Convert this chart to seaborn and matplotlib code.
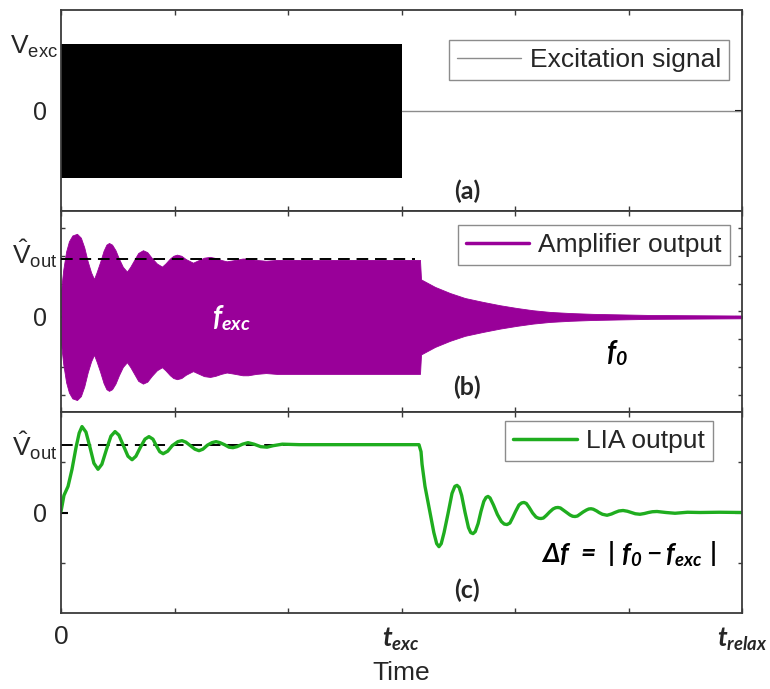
import matplotlib.pyplot as plt
import numpy as np
import seaborn as sns
from matplotlib.lines import Line2D

# time axis runs from 0 to t_relax, excitation stops at t_exc
t_major = [0, 3, 6]
t_minor = [1, 2, 4, 5]
t_labels = ["0", r"$\mathbf{t}_{\mathbf{exc}}$", r"$\mathbf{t}_{\mathbf{relax}}$"]

# (a) excitation signal: envelope while driven, flat line afterwards
exc_time = [0.0, 3.0]
exc_amp = [1.0, 1.0]
exc_off_time = [3.0, 6.0]
exc_off_level = [0.0, 0.0]

# (b) amplifier output envelope
amp_time = [0.0, 0.02, 0.045, 0.07, 0.10, 0.141, 0.175, 0.205, 0.235, 0.265,
            0.291, 0.315, 0.345, 0.375, 0.40, 0.423, 0.45, 0.48, 0.51, 0.545,
            0.581, 0.61, 0.645, 0.68, 0.722, 0.76, 0.80, 0.845, 0.89, 0.92,
            0.96, 0.99, 1.022, 1.06, 1.10, 1.163, 1.20, 1.26, 1.313, 1.36,
            1.41, 1.46, 1.52, 1.60, 1.648, 1.72, 1.806, 1.90, 3.163, 3.172,
            3.295, 3.427, 3.559, 3.718, 3.868, 4.018, 4.159, 4.308, 4.485, 4.687,
            5.189, 6.0]
amp_env = [0.95, 1.7, 2.35, 2.72, 2.93, 2.99, 2.85, 2.5, 2.0, 1.6,
           1.36, 1.62, 1.98, 2.38, 2.6, 2.66, 2.6, 2.4, 2.1, 1.8,
           1.63, 1.8, 2.05, 2.3, 2.4, 2.33, 2.12, 1.92, 1.81, 1.92,
           2.1, 2.2, 2.24, 2.2, 2.08, 1.95, 2.02, 2.13, 2.16, 2.12,
           2.05, 2.0, 2.04, 2.1, 2.1, 2.05, 2.02, 2.05, 2.05, 1.35,
           1.08, 0.86, 0.68, 0.54, 0.42, 0.32, 0.24, 0.18, 0.14, 0.11,
           0.07, 0.05]
amp_ref_time = [0.0, 3.12]
amp_ref_level = [2.09, 2.09]

# (c) lock-in amplifier output
lia_time = [0.0, 0.026, 0.062, 0.097, 0.132, 0.16, 0.185, 0.22, 0.255, 0.29,
            0.326, 0.36, 0.40, 0.44, 0.476, 0.51, 0.55, 0.59, 0.626, 0.66,
            0.70, 0.74, 0.775, 0.81, 0.84, 0.87, 0.90, 0.94, 0.98, 1.03,
            1.066, 1.10, 1.14, 1.18, 1.216, 1.25, 1.29, 1.33, 1.366, 1.40,
            1.44, 1.48, 1.515, 1.55, 1.60, 1.648, 1.70, 1.76, 1.815, 1.87,
            1.95, 2.10, 3.154, 3.172, 3.181, 3.207, 3.251, 3.285, 3.31, 3.33,
            3.35, 3.375, 3.41, 3.445, 3.47, 3.489, 3.508, 3.53, 3.56, 3.59,
            3.61, 3.63, 3.65, 3.675, 3.70, 3.725, 3.745, 3.762, 3.78, 3.81,
            3.845, 3.88, 3.905, 3.93, 3.955, 3.98, 4.005, 4.035, 4.058, 4.079,
            4.10, 4.125, 4.155, 4.185, 4.208, 4.229, 4.25, 4.275, 4.305, 4.335,
            4.358, 4.379, 4.40, 4.425, 4.455, 4.485, 4.508, 4.529, 4.55, 4.575,
            4.60, 4.63, 4.65, 4.67, 4.69, 4.72, 4.74, 4.77, 4.811, 4.85,
            4.88, 4.915, 4.952, 4.99, 5.025, 5.06, 5.101, 5.14, 5.175, 5.21,
            5.251, 5.33, 5.41, 5.52, 5.63, 5.80, 6.0]
lia_value = [0.02, 0.34, 0.52, 0.86, 1.29, 1.58, 1.71, 1.60, 1.30, 0.98,
             0.86, 0.96, 1.25, 1.52, 1.61, 1.54, 1.33, 1.12, 1.05, 1.12,
             1.30, 1.46, 1.51, 1.46, 1.33, 1.21, 1.17, 1.22, 1.33, 1.41,
             1.43, 1.40, 1.33, 1.26, 1.23, 1.26, 1.34, 1.39, 1.41, 1.39,
             1.35, 1.30, 1.29, 1.31, 1.36, 1.39, 1.36, 1.31, 1.30, 1.33,
             1.36, 1.35, 1.35, 1.21, 0.96, 0.52, 0.00, -0.40, -0.62, -0.68,
             -0.62, -0.40, -0.02, 0.38, 0.52, 0.54, 0.50, 0.34, 0.00, -0.30,
             -0.40, -0.42, -0.38, -0.22, 0.02, 0.22, 0.30, 0.32, 0.29, 0.15,
             -0.04, -0.18, -0.23, -0.24, -0.21, -0.10, 0.02, 0.15, 0.19, 0.20,
             0.18, 0.10, -0.01, -0.09, -0.115, -0.12, -0.11, -0.06, 0.01, 0.07,
             0.095, 0.10, 0.09, 0.05, 0.00, -0.05, -0.075, -0.08, -0.07, -0.03,
             0.01, 0.05, 0.07, 0.075, 0.065, 0.03, 0.00, -0.035, -0.055, -0.03,
             0.00, 0.03, 0.04, 0.025, 0.00, -0.025, -0.035, -0.02, 0.00, 0.015,
             0.02, 0.00, -0.015, 0.005, 0.00, 0.005, 0.00]
lia_ref_time = [0.0, 3.15]
lia_ref_level = [1.35, 1.35]

PURPLE = "#990099"
GREEN = "#1fad1f"
SPINE = "#3a3a3a"
GREY = "#8c8c8c"

sns.set_theme(style="ticks")
plt.rcParams["font.family"] = ["Liberation Sans", "DejaVu Sans"]
plt.rcParams["mathtext.fontset"] = "custom"
plt.rcParams["mathtext.rm"] = "Liberation Sans"
plt.rcParams["mathtext.it"] = "Liberation Sans:italic"
plt.rcParams["mathtext.bf"] = "Lato:bold:italic"

fig = plt.figure(figsize=(7.7, 6.89), dpi=100)
left, width, height = 61 / 770, 681 / 770, 201 / 689
ax_a = fig.add_axes([left, (689 - 211) / 689, width, height])
ax_b = fig.add_axes([left, (689 - 412) / 689, width, height])
ax_c = fig.add_axes([left, (689 - 613) / 689, width, height])

# (a) excitation
ax_a.fill_between(exc_time, -np.asarray(exc_amp), exc_amp, color="black", lw=0)
sns.lineplot(x=exc_off_time, y=exc_off_level, ax=ax_a, color=GREY, lw=1.0, legend=False)
ax_a.set_ylim(-1.5, 1.5)

# (b) amplifier output
env = np.asarray(amp_env)
ax_b.fill_between(amp_time, -env, env, color=PURPLE, lw=0.6, edgecolor=PURPLE)
sns.lineplot(x=amp_ref_time, y=amp_ref_level, ax=ax_b, color="black", lw=1.4,
             linestyle=(0, (6, 3.5)), legend=False, zorder=5)
ax_b.set_ylim(-3.42, 3.81)

# (c) LIA output
sns.lineplot(x=lia_time, y=lia_value, ax=ax_c, color=GREEN, lw=2.4, legend=False, sort=False)
sns.lineplot(x=lia_ref_time, y=lia_ref_level, ax=ax_c, color="black", lw=1.4,
             linestyle=(0, (6, 3.5)), legend=False, zorder=1)
ax_c.set_ylim(-2, 2)

vout = r"$\hat{\mathrm{V}}_{\mathrm{out}}$"
# (label position of the V symbol, minor tick positions)
ytick_setup = {
    ax_a: (0.955, r"$\mathrm{V}_{\mathrm{exc}}$", []),
    ax_b: (2.28, vout, [0.2 + k for k in range(-3, 4)]),
    ax_c: (1.33, vout, [-1, 1]),
}

for ax, (v_pos, v_label, ym) in ytick_setup.items():
    ax.set_xlim(0, 6)
    ax.set_xticks(t_major)
    ax.set_xticks(t_minor, minor=True)
    ax.set_yticks([0])
    ax.set_yticklabels([""])
    ax.set_yticks(ym, minor=True)
    ax.tick_params(axis="both", which="both", direction="in", top=True, right=True)
    ax.tick_params(axis="x", which="both", length=3.5, width=1.0, color=SPINE)
    ax.tick_params(axis="y", which="major", length=5, width=1.5, color="black")
    ax.tick_params(axis="y", which="minor", length=3, width=1.0, color=SPINE)
    for sp in ax.spines.values():
        sp.set_color(SPINE)
        sp.set_linewidth(1.3)
    ax.set_ylabel("")
    ax.set_xlabel("")
    ytf = ax.get_yaxis_transform()
    ax.text(-0.0206, 0, "0", transform=ytf, fontsize=18, ha="right", va="center_baseline")
    ax.text(-0.005, v_pos, v_label, transform=ytf, fontsize=19, ha="right", va="center")

for ax in (ax_a, ax_b):
    ax.tick_params(axis="x", labelbottom=False)
ax_c.set_xticklabels(t_labels)
ax_c.tick_params(axis="x", which="major", labelsize=19, pad=9)
ax_c.set_xlabel("Time", fontsize=19, labelpad=6)

# legends
legend_kw = dict(loc="upper right", fontsize=19, frameon=True, fancybox=False,
                 framealpha=1, edgecolor=GREY, borderaxespad=0,
                 handletextpad=0.35, borderpad=0.3, handlelength=2.4)
leg = ax_a.legend(handles=[Line2D([], [], color=GREY, lw=1.0)], labels=["Excitation signal"],
                  bbox_to_anchor=(0.981, 0.851), **legend_kw)
leg.get_frame().set_linewidth(1.0)
leg = ax_b.legend(handles=[Line2D([], [], color=PURPLE, lw=2.5)], labels=["Amplifier output"],
                  bbox_to_anchor=(0.982, 0.930), **legend_kw)
leg.get_frame().set_linewidth(1.0)
leg = ax_c.legend(handles=[Line2D([], [], color=GREEN, lw=2.5)], labels=["LIA output"],
                  bbox_to_anchor=(0.957, 0.955), **legend_kw)
leg.get_frame().set_linewidth(1.0)

# annotations
panel_font = dict(fontsize=18, fontweight="bold", family=["Lato", "DejaVu Sans"],
                  ha="center", va="center")
ax_a.text(0.596, 0.10, "(a)", transform=ax_a.transAxes, **panel_font)
ax_b.text(0.596, 0.124, "(b)", transform=ax_b.transAxes, **panel_font)
ax_c.text(0.596, 0.114, "(c)", transform=ax_c.transAxes, **panel_font)

ax_b.text(1.5, -0.04, r"$\mathbf{f}_{\mathbf{exc}}$", color="white", fontsize=20,
          ha="center", va="center")
ax_b.text(4.9, -1.3, r"$\mathbf{f}_{\mathbf{0}}$", color="black", fontsize=20,
          ha="center", va="center")
ax_c.text(5.0, -0.84, r"$\mathbf{Δf\ =\ |\ f_0 - f_{exc}\ |}$", color="black",
          fontsize=19, ha="center", va="center")

fig.savefig("out.png", dpi=100)
